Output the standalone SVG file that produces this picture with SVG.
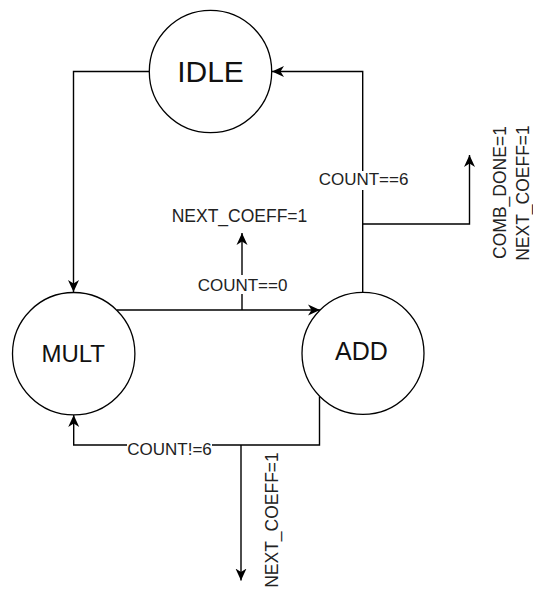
<svg xmlns="http://www.w3.org/2000/svg" width="533" height="589" viewBox="0 0 533 589">
<style>
.st{fill:#fff;stroke:#000;stroke-width:1.3}
.nl{font-family:"Liberation Sans",Arial,sans-serif;fill:#111;text-anchor:middle}
.e{fill:none;stroke:#000;stroke-width:1.4}
.lb{font-family:"Liberation Sans",Arial,sans-serif;font-size:17px;fill:#222;text-anchor:middle}
.ot{font-family:"Liberation Sans",Arial,sans-serif;font-size:17.5px;fill:#222;text-anchor:middle}
.bg{fill:#fff}
</style>
<defs>
<marker id="arr" viewBox="-12 -6 13 12" markerWidth="13" markerHeight="12" refX="0" refY="0" orient="auto" markerUnits="userSpaceOnUse">
<path d="M0,0 L-12,-5.5 L-8.5,0 L-12,5.5 Z" fill="#000"/>
</marker>
</defs>
<g id="connectors">
<path class="e" d="M149,71.5 H73.5 V292" marker-end="url(#arr)"/>
<path class="e" d="M362.7,292 V71.5 H272" marker-end="url(#arr)"/>
<path class="e" d="M362.7,224 H469.5 V155" marker-end="url(#arr)"/>
<path class="e" d="M117,310 H320" marker-end="url(#arr)"/>
<path class="e" d="M242,310 V233" marker-end="url(#arr)"/>
<path class="e" d="M319.5,396.5 V445 H73.7 V415" marker-end="url(#arr)"/>
<path class="e" d="M241,445 V580.5" marker-end="url(#arr)"/>
<rect class="bg" x="319" y="171" width="90" height="19"/>
<text class="lb" x="363.5" y="185">COUNT==6</text>
<rect class="bg" x="197" y="275" width="91" height="19"/>
<text class="lb" x="242.5" y="291">COUNT==0</text>
<rect class="bg" x="127" y="437" width="85" height="16"/>
<text class="lb" x="169.5" y="455">COUNT!=6</text>
</g>
<g id="outputs">
<text class="ot" x="239.5" y="222">NEXT_COEFF=1</text>
<text class="ot" x="278" y="520" transform="rotate(-90 278 520)">NEXT_COEFF=1</text>
<text class="ot" x="506" y="192.5" transform="rotate(-90 506 192.5)">COMB_DONE=1</text>
<text class="ot" x="528.5" y="193" transform="rotate(-90 528.5 193)">NEXT_COEFF=1</text>
</g>
<g id="IDLE">
<circle class="st" cx="210.5" cy="71.5" r="61.2"/>
<text class="nl" x="210.5" y="82.3" font-size="30">IDLE</text>
</g>
<g id="MULT">
<circle class="st" cx="73.7" cy="353.7" r="61.2"/>
<text class="nl" x="73.2" y="361.7" font-size="24">MULT</text>
</g>
<g id="ADD">
<circle class="st" cx="363" cy="353.3" r="61"/>
<text class="nl" x="361.5" y="360" font-size="25">ADD</text>
</g>
</svg>
